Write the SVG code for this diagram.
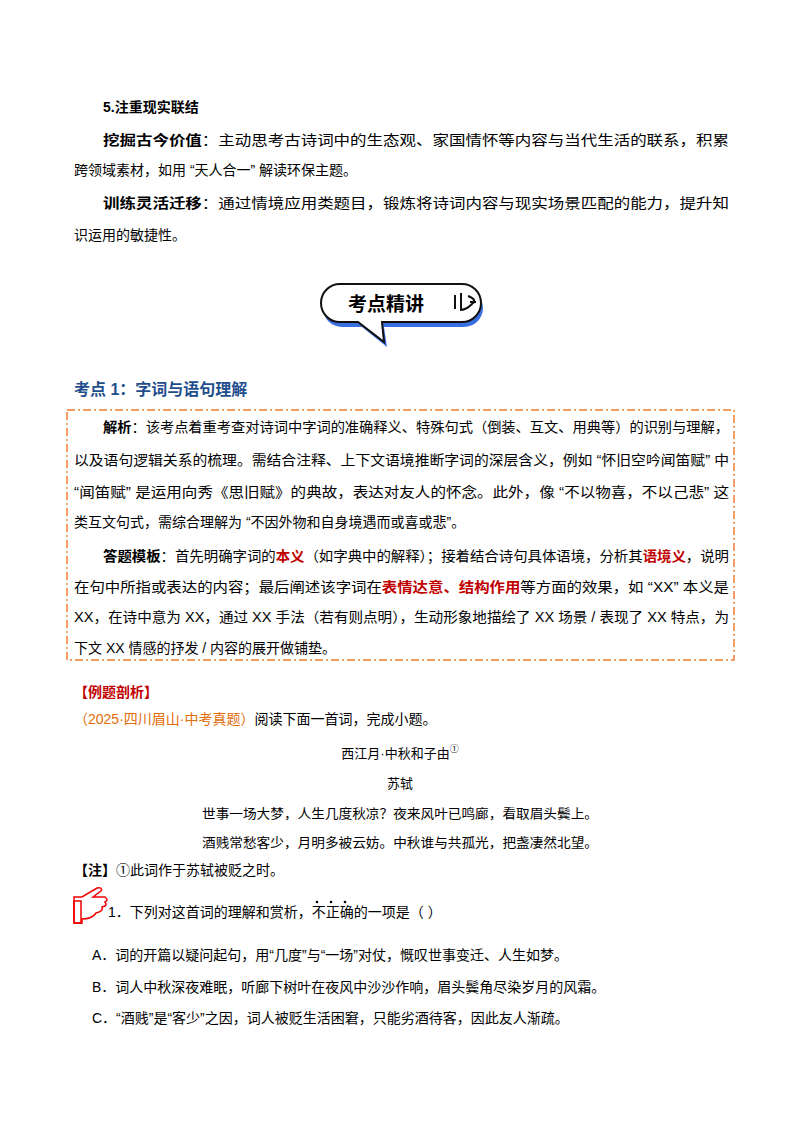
<svg xmlns="http://www.w3.org/2000/svg" width="800" height="1132" viewBox="0 0 800 1132">
<style>
text{font-family:"Liberation Sans","Noto Sans CJK SC",sans-serif;font-size:14px;fill:#000}
.b{font-weight:bold}
.r{fill:#c00000;font-weight:bold}
.h{fill:#1f4e8c;font-weight:bold;font-size:16px}
.o{fill:#e26b0a}
.p{font-size:13px}
</style>
<rect width="800" height="1132" fill="#fff"/>
<g id="sec5">
<text x="103" y="112" class="b">5.注重现实联结</text>
<text x="103" y="145" textLength="626" lengthAdjust="spacingAndGlyphs"><tspan class="b">挖掘古今价值</tspan>：主动思考古诗词中的生态观、家国情怀等内容与当代生活的联系，积累</text>
<text x="74" y="175">跨领域素材，如用 “天人合一” 解读环保主题。</text>
<text x="103" y="208" textLength="626" lengthAdjust="spacingAndGlyphs"><tspan class="b">训练灵活迁移</tspan>：通过情境应用类题目，锻炼将诗词内容与现实场景匹配的能力，提升知</text>
<text x="74" y="240">识运用的敏捷性。</text>
</g>
<g id="badge">
<path d="M340 286 H462 a19 19 0 0 1 0 38 H382 L385 344 L360 324 H340 a19 19 0 0 1 0 -38 Z" fill="#3a6fe0" transform="translate(2,3)"/>
<path d="M340 284 H462 a19 19 0 0 1 0 38 H382 L384 342 L358 322 H340 a19 19 0 0 1 0 -38 Z" fill="#fff" stroke="#111" stroke-width="2"/>
<text x="348" y="311" class="b" style="font-size:19px">考点精讲</text>
<path d="M455 295 v14 M461 293 v16 M468 296 q10 4 4 8 q-6 6 -12 6 M470 302 l6 0" stroke="#111" stroke-width="2" fill="none"/>
</g>
<g id="kd1">
<text x="74" y="395" class="h">考点 1：字词与语句理解</text>
<rect x="67" y="410" width="667" height="250" fill="none" stroke="#ed7d31" stroke-width="1.5" stroke-dasharray="8 3 2 3"/>
<text x="103" y="432" textLength="626" lengthAdjust="spacingAndGlyphs"><tspan class="b">解析</tspan>：该考点着重考查对诗词中字词的准确释义、特殊句式（倒装、互文、用典等）的识别与理解，</text>
<text x="74" y="465" textLength="655" lengthAdjust="spacingAndGlyphs">以及语句逻辑关系的梳理。需结合注释、上下文语境推断字词的深层含义，例如 “怀旧空吟闻笛赋” 中</text>
<text x="74" y="497" textLength="655" lengthAdjust="spacingAndGlyphs">“闻笛赋” 是运用向秀《思旧赋》的典故，表达对友人的怀念。此外，像 “不以物喜，不以己悲” 这</text>
<text x="74" y="527">类互文句式，需综合理解为 “不因外物和自身境遇而或喜或悲”。</text>
<text x="103" y="561" textLength="626" lengthAdjust="spacingAndGlyphs"><tspan class="b">答题模板</tspan>：首先明确字词的<tspan class="r">本义</tspan>（如字典中的解释）；接着结合诗句具体语境，分析其<tspan class="r">语境义</tspan>，说明</text>
<text x="74" y="592" textLength="655" lengthAdjust="spacingAndGlyphs">在句中所指或表达的内容；最后阐述该字词在<tspan class="r">表情达意、结构作用</tspan>等方面的效果，如 “XX” 本义是</text>
<text x="74" y="622" textLength="655" lengthAdjust="spacingAndGlyphs">XX，在诗中意为 XX，通过 XX 手法（若有则点明），生动形象地描绘了 XX 场景 / 表现了 XX 特点，为</text>
<text x="74" y="653">下文 XX 情感的抒发 / 内容的展开做铺垫。</text>
</g>
<g id="example">
<text x="74" y="697" class="r">【例题剖析】</text>
<text x="74" y="724" class="o">（2025·四川眉山·中考真题）<tspan style="fill:#000">阅读下面一首词，完成小题。</tspan></text>
<text x="400" y="758" text-anchor="middle" class="p">西江月·中秋和子由<tspan style="font-size:9px" dy="-6">①</tspan></text>
<text x="400" y="788" text-anchor="middle" class="p">苏轼</text>
<text x="202" y="818" class="p" textLength="396" lengthAdjust="spacingAndGlyphs">世事一场大梦，人生几度秋凉？夜来风叶已鸣廊，看取眉头鬓上。</text>
<text x="202" y="847" class="p" textLength="396" lengthAdjust="spacingAndGlyphs">酒贱常愁客少，月明多被云妨。中秋谁与共孤光，把盏凄然北望。</text>
<text x="74" y="875"><tspan class="b">【注】</tspan>①此词作于苏轼被贬之时。</text>
</g>
<g id="hand">
<path d="M74 897 v26 h8 v-4 q10 0 14 -6 q8 -2 6 -6 q6 -1 3 -5 q4 -2 0 -5 h-12 l8 -6 q2 -4 -4 -3 l-15 9 Z" fill="none" stroke="#e00" stroke-width="1.5"/>
<rect x="74" y="901" width="7" height="22" fill="none" stroke="#e00" stroke-width="1.5"/>
</g>
<g id="question">
<text x="108" y="917">1．下列对这首词的理解和赏析，不正确的一项是（    ）</text>
<circle cx="317" cy="902" r="1.3"/><circle cx="331" cy="902" r="1.3"/><circle cx="345" cy="902" r="1.3"/>
<text x="92" y="960">A．词的开篇以疑问起句，用“几度”与“一场”对仗，慨叹世事变迁、人生如梦。</text>
<text x="92" y="992">B．词人中秋深夜难眠，听廊下树叶在夜风中沙沙作响，眉头鬓角尽染岁月的风霜。</text>
<text x="92" y="1023">C．“酒贱”是“客少”之因，词人被贬生活困窘，只能劣酒待客，因此友人渐疏。</text>
</g>
</svg>
